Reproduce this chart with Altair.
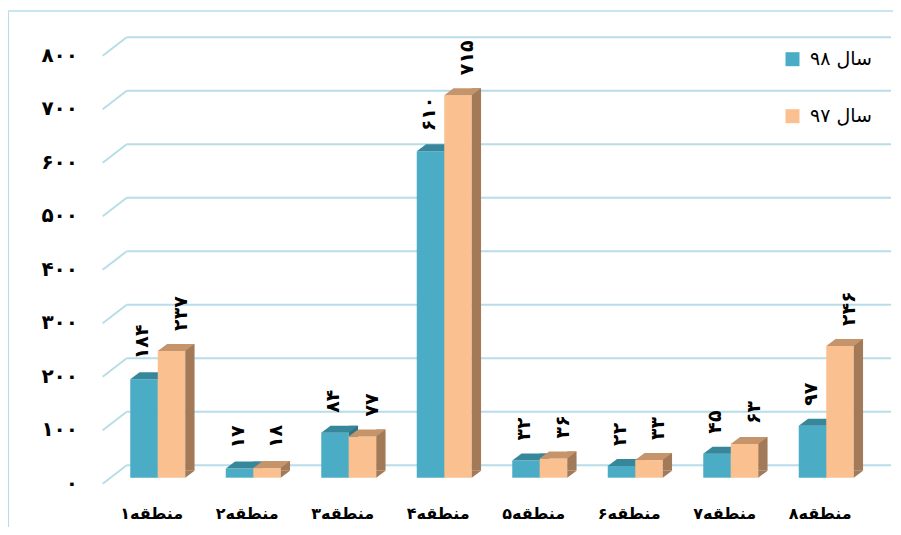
import altair as alt
import pandas as pd

# ---------------- data ----------------
regions = ["منطقه۱", "منطقه۲", "منطقه۳", "منطقه۴", "منطقه۵", "منطقه۶", "منطقه۷", "منطقه۸"]
series = ["سال ۹۸", "سال ۹۷"]
values_98 = [184, 17, 84, 610, 32, 22, 45, 97]
values_97 = [237, 18, 77, 715, 36, 33, 63, 246]
tick_values = [0, 100, 200, 300, 400, 500, 600, 700, 800]
tick_labels = ["۰", "۱۰۰", "۲۰۰", "۳۰۰", "۴۰۰", "۵۰۰", "۶۰۰", "۷۰۰", "۸۰۰"]

# ---------------- style ----------------
FONT = "DejaVu Sans"
FRONT = ["#4BACC6", "#FAC090"]
TOP = ["#37879B", "#C6946B"]
SIDE = ["#2E7487", "#A37A58"]
GRID = "#B7DDE8"
FRAME = "#B7DDE8"

W_PLOT, H_PLOT = 764, 428
BAR_W = 27.5
DX, DY = 9.3, 7.0
BACK = -12.4

fa = str.maketrans("0123456789", "۰۱۲۳۴۵۶۷۸۹")

rows = []
for s, vals in zip(series, [values_98, values_97]):
    for r, v in zip(regions, vals):
        rows.append({"region": r, "series": s, "value": v, "base": 0,
                     "label": str(v).translate(fa)})
bars = pd.DataFrame(rows)
ticks = pd.DataFrame({"v": tick_values, "label": tick_labels})

xscale = alt.Scale(domain=regions, paddingInner=0, paddingOuter=0)
yscale = alt.Scale(domain=[0, 800], nice=False, zero=True)

xaxis = alt.Axis(title=None, domain=False, ticks=False, labelAngle=0, labelFontSize=16,
                 labelFont=FONT, labelFontWeight="bold", labelColor="black",
                 labelPadding=41, labelBaseline="alphabetic", labelOffset=-6, grid=False)
X = alt.X("region:N", scale=xscale, sort=regions, axis=xaxis)
Y = alt.Y("value:Q", scale=yscale, axis=None)
Y0 = alt.Y("base:Q", scale=yscale, axis=None)

layers = []

# frame
one = pd.DataFrame({"a": [0]})
layers.append(alt.Chart(one).mark_rule(color=FRAME, strokeWidth=1.5).encode(
    x=alt.value(-101.7), y=alt.value(-38.7), y2=alt.value(480)))
layers.append(alt.Chart(one).mark_rule(color=FRAME, strokeWidth=1.5).encode(
    x=alt.value(-101.7), x2=alt.value(800), y=alt.value(-38.7)))

# grid (back wall + slanted floor edge)
layers.append(alt.Chart(ticks).mark_rule(color=GRID, strokeWidth=2, yOffset=BACK).encode(
    y=alt.Y("v:Q", scale=yscale, axis=None), x=alt.value(16.7), x2=alt.value(781)))
layers.append(alt.Chart(ticks).mark_rule(color=GRID, strokeWidth=2, yOffset=6, y2Offset=BACK).encode(
    y=alt.Y("v:Q", scale=yscale, axis=None), y2=alt.Y2("v:Q"), x=alt.value(-7.3), x2=alt.value(16.7)))

# tick labels
layers.append(alt.Chart(ticks).mark_text(align="right", baseline="middle", fontSize=20,
                                          fontWeight="bold", font=FONT, color="black", yOffset=6).encode(
    y=alt.Y("v:Q", scale=yscale, axis=None), x=alt.value(-32), text="label:N"))

legend = alt.Legend(title=None, orient="none", legendX=673, legendY=0, symbolType="square",
                    symbolSize=196, symbolStrokeWidth=0, labelFontSize=19, labelFont=FONT,
                    labelColor="black", labelOffset=8, rowPadding=37, padding=0, direction="vertical")

top_path = f"M {-BAR_W/2} 0 L {BAR_W/2} 0 L {BAR_W/2 + DX} {-DY} L {-BAR_W/2 + DX} {-DY} Z"
tri_path = f"M {BAR_W/2} 0 L {BAR_W/2 + DX} {-DY} L {BAR_W/2} {-DY} Z"

label_shift = [-2, 9]
for i, s in enumerate(series):
    o = -BAR_W / 2 if i == 0 else BAR_W / 2
    base = alt.Chart(bars).transform_filter(alt.datum.series == s)
    layers.append(base.mark_bar(width=BAR_W, xOffset=o).encode(
        x=X, y=Y,
        color=alt.Color("series:N", scale=alt.Scale(domain=series, range=FRONT), legend=legend)))
    layers.append(base.mark_bar(width=DX, xOffset=o + BAR_W / 2 + DX / 2, yOffset=-DY,
                                y2Offset=-DY, color=SIDE[i]).encode(
        x=X, y=Y, y2=alt.Y2("base:Q")))
    layers.append(base.mark_point(shape=tri_path, size=4, filled=True, opacity=1, strokeWidth=0,
                                  color=SIDE[i], xOffset=o).encode(x=X, y=Y0))
    layers.append(base.mark_point(shape=top_path, size=4, filled=True, opacity=1, strokeWidth=0,
                                  color=TOP[i], xOffset=o).encode(x=X, y=Y))

for i, s in enumerate(series):
    o = -BAR_W / 2 if i == 0 else BAR_W / 2
    base = alt.Chart(bars).transform_filter(alt.datum.series == s)
    layers.append(base.mark_text(angle=270, align="left", baseline="middle", fontSize=19,
                                 fontWeight="bold", font=FONT, color="black",
                                 xOffset=o + label_shift[i], yOffset=-20).encode(
        x=X, y=Y, text="label:N"))

chart = alt.layer(*layers).properties(
    width=W_PLOT, height=H_PLOT,
    autosize=alt.AutoSizeParams(type="none"),
    padding={"left": 102, "top": 41.7, "right": 19, "bottom": 49.3},
    background="white",
).configure_view(stroke=None)

chart.save("out.html", embed_options={"renderer": "svg", "actions": False})
